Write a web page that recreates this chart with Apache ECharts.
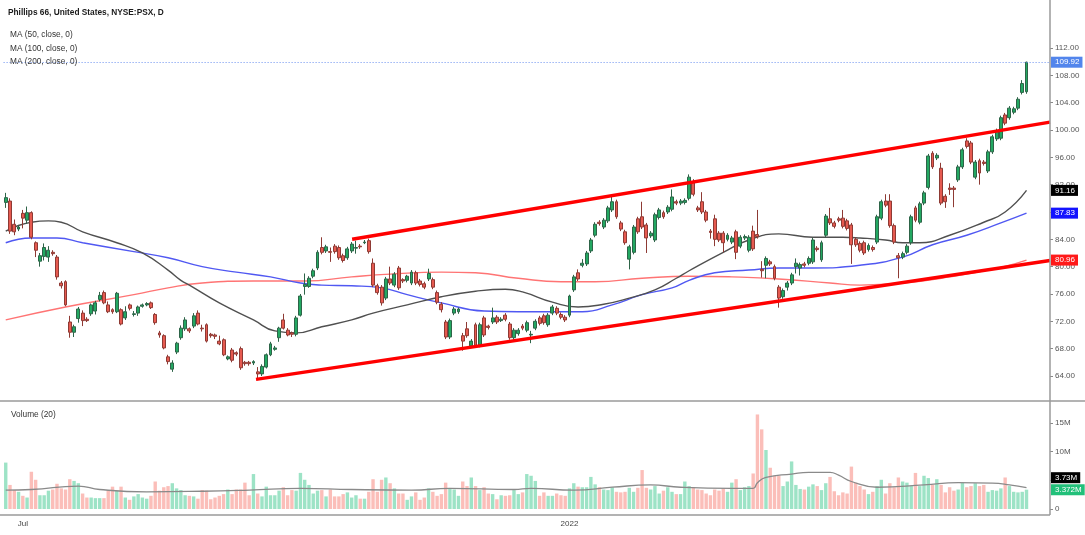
<!DOCTYPE html>
<html>
<head>
<meta charset="utf-8">
<title>PSX</title>
<script src="https://cdn.jsdelivr.net/npm/echarts@6/dist/echarts.min.js"></script>
<style>
  html, body { margin: 0; padding: 0; background: #fff; }
  #chart { width: 1085px; height: 535px; }
</style>
</head>
<body>
<div id="chart"></div>
<script>
// daily candles, Phillips 66
const firstDay = "2021-06-25";
const futureSlots = 5;
const holidays = ["2021-07-05", "2021-09-06", "2021-11-25", "2021-12-24",
  "2022-01-17", "2022-02-21", "2022-04-15", "2022-05-30", "2022-06-20"];

const open = [
  89.4, 89.6, 86.2, 85.5, 87.8, 86.8, 87.9, 83.5, 80.8, 81.5,
  81.4, 82.1, 81.4, 77.6, 77.8, 71.9, 70.4, 72.4, 73.2, 72.3,
  73.1, 73.5, 75.2, 76.2, 74.4, 73.7, 73.4, 73.7, 72.5, 74.4,
  73.0, 73.2, 74.2, 74.4, 74.7, 73.0, 70.3, 69.9, 66.8, 65.0,
  67.5, 69.6, 70.9, 70.9, 71.3, 73.2, 71.0, 71.5, 70.1, 70.0,
  69.1, 69.3, 66.5, 67.8, 67.4, 68.0, 66.0, 66.0, 65.9, 64.6,
  64.3, 65.3, 67.1, 67.9, 69.6, 72.2, 70.7, 70.3, 70.1, 72.9,
  77.1, 77.1, 78.6, 79.8, 82.8, 82.3, 82.2, 83.0, 82.8, 81.6,
  81.3, 82.3, 82.7, 83.0, 83.5, 83.8, 80.5, 77.2, 77.0, 75.4,
  78.2, 77.3, 79.8, 78.1, 78.0, 77.6, 79.1, 77.9, 77.5, 78.2,
  78.1, 76.2, 74.5, 71.9, 69.7, 73.2, 73.4, 69.9, 70.9, 68.4,
  71.5, 68.5, 72.5, 71.3, 71.9, 72.6, 72.1, 72.9, 71.6, 69.6,
  70.2, 71.3, 70.7, 70.0, 71.0, 72.5, 72.8, 71.5, 73.2, 73.9,
  73.0, 72.6, 72.9, 76.6, 79.1, 80.2, 80.4, 82.3, 84.6, 86.5,
  85.8, 86.7, 88.3, 89.5, 86.4, 85.1, 81.1, 82.1, 87.0, 87.3,
  86.1, 84.5, 83.9, 87.2, 87.9, 88.0, 88.4, 89.5, 89.3, 89.4,
  90.0, 92.3, 88.6, 89.5, 88.0, 85.2, 87.0, 84.9, 84.9, 84.0,
  83.6, 85.1, 83.0, 84.2, 82.4, 85.2, 84.7, 79.6, 80.2, 80.7,
  80.0, 77.0, 75.6, 77.0, 77.6, 80.0, 79.8, 80.4, 80.5, 80.7,
  82.7, 81.0, 84.6, 87.0, 86.4, 87.0, 87.1, 86.7, 86.1, 84.0,
  83.4, 83.5, 82.5, 82.8, 83.6, 87.1, 89.6, 89.6, 86.0, 81.6,
  81.4, 82.1, 83.5, 88.6, 86.5, 89.3, 91.6, 96.6, 95.9, 94.4,
  90.3, 91.5, 91.5, 92.7, 94.6, 98.4, 98.1, 93.1, 95.5, 95.3,
  94.0, 96.8, 98.7, 98.8, 102.2, 101.8, 102.6, 103.2, 105.5, 105.6
];
const close = [
  90.1, 85.2, 85.1, 85.8, 87.1, 87.9, 84.3, 82.4, 81.6, 82.8,
  82.4, 81.9, 78.5, 77.2, 74.4, 70.4, 71.2, 73.8, 72.1, 72.1,
  74.4, 74.7, 75.8, 74.7, 73.4, 73.4, 76.1, 71.6, 73.4, 73.9,
  73.1, 74.1, 74.4, 74.6, 74.0, 71.8, 70.0, 68.1, 66.1, 65.9,
  68.8, 71.0, 72.2, 70.6, 72.8, 71.6, 70.9, 69.1, 69.9, 69.8,
  68.7, 67.1, 66.8, 66.3, 67.2, 65.2, 65.8, 65.8, 66.1, 64.3,
  65.4, 67.1, 68.7, 68.1, 71.0, 71.0, 70.0, 70.1, 72.5, 75.7,
  77.4, 78.3, 79.4, 82.1, 82.1, 82.9, 82.1, 82.2, 81.3, 80.9,
  82.6, 83.3, 82.8, 82.9, 83.6, 82.2, 77.3, 76.2, 74.7, 78.2,
  77.6, 78.9, 76.9, 77.9, 78.6, 79.2, 77.6, 77.4, 77.0, 79.0,
  77.0, 74.8, 73.7, 69.7, 72.1, 73.8, 73.8, 69.1, 69.9, 69.1,
  68.5, 71.5, 70.0, 71.1, 72.5, 71.9, 72.3, 72.3, 69.6, 70.7,
  70.7, 71.0, 71.8, 70.1, 72.0, 71.7, 71.8, 72.9, 74.1, 73.2,
  72.6, 72.2, 75.7, 78.5, 78.2, 80.5, 82.0, 83.9, 86.2, 86.3,
  86.8, 88.6, 89.5, 87.3, 85.5, 83.5, 82.9, 85.8, 85.1, 85.8,
  84.2, 84.9, 87.6, 88.3, 87.3, 88.7, 90.2, 89.3, 89.6, 89.7,
  93.1, 90.6, 88.3, 88.0, 86.8, 85.0, 84.0, 83.9, 83.5, 84.6,
  84.2, 82.1, 84.3, 84.4, 84.3, 82.6, 84.4, 79.4, 81.2, 80.4,
  78.3, 75.4, 76.5, 77.6, 78.8, 80.5, 80.3, 80.2, 81.2, 83.9,
  82.5, 83.5, 87.4, 86.4, 85.9, 86.8, 85.9, 85.6, 83.2, 83.2,
  82.4, 82.0, 83.1, 82.5, 87.3, 89.5, 89.0, 86.0, 83.6, 81.3,
  81.9, 83.0, 87.3, 86.8, 89.2, 90.8, 96.2, 94.6, 96.3, 89.3,
  89.5, 91.3, 91.3, 94.6, 97.1, 97.6, 95.3, 95.3, 93.7, 95.1,
  96.8, 99.0, 99.8, 101.8, 101.0, 103.2, 103.1, 104.5, 106.8, 109.92
];
const low = [
  88.6, 84.8, 84.6, 85.2, 85.6, 86.3, 84.0, 81.4, 80.0, 80.9,
  80.7, 81.6, 78.1, 76.8, 74.2, 69.6, 69.7, 71.8, 71.3, 71.9,
  72.8, 73.0, 74.9, 74.5, 73.2, 73.1, 73.2, 71.4, 72.2, 73.6,
  72.7, 72.8, 74.0, 74.2, 73.8, 71.5, 69.6, 67.9, 65.7, 64.6,
  67.2, 69.3, 70.6, 70.3, 71.0, 71.4, 70.5, 68.9, 69.6, 69.4,
  68.5, 66.9, 66.3, 66.0, 66.9, 64.9, 65.5, 65.5, 65.6, 63.6,
  64.0, 65.1, 66.9, 67.7, 69.0, 70.8, 69.8, 69.7, 69.8, 72.7,
  75.9, 76.9, 78.3, 79.5, 81.8, 82.0, 80.7, 81.9, 81.0, 80.6,
  81.0, 82.0, 81.9, 82.6, 83.3, 81.9, 77.0, 75.9, 74.3, 75.1,
  77.3, 77.0, 76.6, 77.6, 77.7, 77.3, 77.3, 77.1, 76.7, 77.9,
  76.7, 74.5, 73.3, 69.4, 69.4, 72.9, 73.1, 67.7, 69.6, 68.1,
  68.2, 68.2, 69.7, 70.8, 71.6, 71.6, 71.9, 72.0, 69.3, 69.3,
  69.9, 70.7, 70.4, 68.8, 70.7, 71.4, 71.5, 71.2, 72.9, 72.9,
  72.3, 71.9, 72.6, 76.3, 77.9, 79.9, 80.1, 82.0, 84.3, 86.0,
  85.5, 86.4, 88.0, 87.0, 85.2, 83.2, 79.6, 81.8, 84.8, 85.5,
  82.0, 84.2, 83.6, 86.9, 87.0, 87.7, 88.1, 89.0, 89.0, 89.1,
  89.7, 90.3, 88.0, 87.7, 86.5, 84.1, 83.0, 83.6, 82.1, 83.7,
  83.3, 81.1, 82.7, 83.9, 82.1, 82.3, 84.1, 78.4, 78.3, 80.1,
  78.0, 74.0, 75.3, 76.5, 77.3, 79.0, 78.7, 79.9, 80.2, 80.4,
  82.2, 80.7, 84.3, 86.1, 85.6, 86.5, 85.6, 85.3, 80.4, 82.9,
  82.1, 81.7, 82.2, 82.2, 83.3, 86.8, 88.7, 85.7, 83.3, 78.3,
  81.1, 81.8, 83.2, 86.5, 86.2, 89.0, 91.3, 94.3, 95.6, 89.0,
  88.6, 90.5, 88.7, 92.4, 94.3, 97.3, 95.0, 92.8, 92.0, 94.8,
  93.7, 96.5, 98.4, 98.5, 100.7, 101.5, 102.3, 102.9, 105.2, 105.3
];
const high = [
  90.8, 90.0, 86.9, 86.1, 88.3, 88.8, 88.1, 83.7, 82.0, 83.4,
  83.0, 82.4, 81.7, 77.9, 78.0, 72.8, 71.5, 74.1, 73.6, 72.6,
  74.6, 75.0, 76.3, 76.5, 74.9, 73.9, 76.3, 73.9, 74.2, 74.6,
  73.5, 74.3, 74.6, 74.8, 74.9, 73.2, 70.6, 70.1, 67.1, 66.3,
  69.0, 71.4, 72.6, 71.1, 73.2, 73.6, 71.5, 71.7, 70.3, 70.2,
  69.9, 69.5, 67.0, 68.1, 67.6, 68.3, 66.2, 66.2, 66.3, 65.3,
  65.7, 67.3, 69.0, 68.4, 71.2, 73.1, 71.0, 70.5, 72.8, 76.0,
  79.0, 78.6, 79.7, 82.4, 84.3, 83.2, 82.8, 83.3, 83.1, 81.9,
  82.9, 83.6, 83.8, 83.3, 83.9, 84.1, 81.2, 77.5, 77.3, 78.5,
  80.0, 79.2, 80.1, 78.3, 78.8, 79.5, 79.4, 78.2, 77.8, 79.7,
  78.4, 76.5, 74.8, 72.2, 72.4, 74.1, 74.0, 70.3, 71.9, 69.4,
  71.8, 71.8, 72.8, 71.5, 74.0, 72.9, 72.6, 73.2, 71.9, 71.0,
  71.0, 71.6, 72.1, 70.6, 72.3, 72.8, 73.1, 73.2, 74.4, 74.2,
  73.3, 72.9, 75.9, 78.8, 79.6, 81.1, 82.3, 84.2, 86.5, 86.8,
  87.1, 88.9, 90.3, 89.8, 86.7, 85.4, 83.2, 86.1, 87.3, 89.5,
  86.4, 85.2, 87.9, 88.6, 88.2, 89.0, 91.3, 89.8, 89.9, 90.0,
  93.5, 92.8, 88.9, 90.9, 88.3, 85.5, 87.6, 85.2, 85.2, 84.9,
  84.5, 85.4, 84.6, 84.7, 84.6, 86.0, 88.3, 80.8, 81.5, 81.0,
  80.3, 77.3, 76.8, 77.9, 79.1, 81.2, 80.6, 80.7, 81.5, 84.2,
  83.0, 83.8, 87.7, 88.6, 86.7, 87.3, 88.3, 87.0, 86.4, 84.3,
  83.7, 83.8, 83.4, 83.1, 87.6, 89.8, 90.6, 90.6, 86.3, 82.0,
  82.2, 83.3, 87.6, 88.9, 89.5, 91.1, 96.5, 96.9, 96.6, 95.2,
  90.6, 92.2, 91.8, 94.9, 97.4, 98.8, 98.4, 95.6, 95.8, 95.6,
  97.1, 99.3, 100.2, 102.1, 102.5, 103.5, 103.4, 104.8, 107.3, 110.0
];
// volume in millions
const volume = [
  8.1, 4.2, 3.3, 3.0, 2.3, 2.0, 6.5, 5.1, 2.4, 2.4,
  3.2, 3.4, 4.4, 3.6, 3.4, 5.2, 4.9, 4.5, 2.7, 2.0,
  2.0, 1.9, 1.9, 1.9, 3.2, 3.9, 3.2, 3.9, 2.0, 1.6,
  2.2, 2.6, 2.0, 1.8, 2.3, 4.8, 3.2, 3.8, 4.0, 4.5,
  3.6, 3.3, 2.4, 2.3, 2.2, 1.8, 3.3, 3.2, 1.7, 2.0,
  2.3, 2.6, 3.4, 2.6, 3.4, 3.4, 4.6, 2.4, 6.1, 2.7,
  2.2, 3.9, 2.4, 2.4, 3.2, 3.8, 2.4, 3.3, 3.2, 6.3,
  5.1, 4.2, 2.7, 3.2, 3.3, 2.2, 3.4, 2.2, 2.2, 2.6,
  2.9, 2.0, 2.4, 1.8, 1.8, 3.0, 5.2, 3.0, 5.1, 5.5,
  4.5, 3.6, 2.7, 2.7, 1.6, 2.2, 2.9, 1.6, 2.0, 3.6,
  3.0, 2.3, 2.6, 4.6, 3.6, 3.4, 2.3, 4.8, 4.0, 5.5,
  4.0, 3.3, 3.8, 2.7, 2.6, 1.7, 2.4, 2.3, 2.4, 3.3,
  2.6, 2.9, 6.1, 5.8, 4.9, 2.3, 2.9, 2.3, 2.3, 2.7,
  2.4, 2.3, 3.6, 4.5, 3.9, 3.8, 3.8, 5.6, 4.3, 3.8,
  3.4, 3.3, 3.8, 3.0, 2.9, 3.0, 3.7, 3.0, 3.7, 6.8,
  3.7, 3.4, 4.0, 2.7, 3.2, 3.8, 3.0, 2.6, 2.6, 4.8,
  4.0, 3.8, 3.4, 3.3, 2.7, 2.4, 3.4, 3.2, 3.6, 3.0,
  4.6, 5.2, 3.3, 3.8, 4.0, 6.2, 16.5, 13.9, 10.3, 7.2,
  5.8, 5.8, 4.0, 4.8, 8.3, 4.2, 3.5, 3.4, 3.9, 4.3,
  4.0, 3.3, 4.5, 5.6, 3.1, 2.4, 2.9, 2.7, 7.4, 4.6,
  4.0, 3.4, 2.6, 3.0, 4.0, 5.1, 2.7, 4.5, 3.8, 5.5,
  4.8, 4.6, 4.0, 6.3, 4.0, 5.8, 5.4, 4.2, 5.2, 4.2,
  2.9, 3.8, 3.2, 3.4, 4.6, 3.8, 4.0, 4.5, 4.0, 4.2,
  3.0, 3.3, 3.2, 3.6, 5.5, 4.0, 3.0, 2.9, 3.0, 3.372
];

// moving averages as [bar index, value]
const ma50 = [[0, 85.2], [6, 86.5], [10, 86.7], [13, 86.5], [18, 85.1], [26, 83.5], [32, 82.0],
  [38, 79.5], [41, 78.0], [43, 77.3], [50, 74.7], [58, 72.2], [63, 70.6], [68, 70.3], [74, 71.2],
  [81, 72.2], [86, 73.2], [94, 74.4], [102, 75.6], [110, 76.4], [117, 76.7], [121, 76.3],
  [128, 74.8], [134, 74.1], [140, 74.5], [146, 75.4], [152, 76.6], [157, 78.3], [160, 79.4],
  [168, 82.1], [174, 83.9], [181, 84.8], [189, 84.3], [196, 84.3], [200, 84.2], [206, 83.9],
  [210, 83.5], [214, 83.5], [221, 84.6], [229, 86.5], [234, 88.0], [239, 91.16]];
const ma100 = [[0, 83.5], [6, 84.2], [12, 84.2], [18, 83.5], [30, 82.2], [38, 81.3], [46, 80.0],
  [54, 79.2], [62, 78.5], [69, 77.6], [74, 77.3], [81, 77.2], [88, 76.9], [94, 75.9], [102, 74.7],
  [112, 73.5], [120, 73.4], [130, 73.4], [135, 73.4], [142, 74.4], [149, 75.9], [156, 76.9],
  [160, 78.0], [166, 79.1], [174, 79.5], [181, 79.8], [189, 79.8], [200, 80.2], [210, 81.4],
  [217, 83.2], [225, 84.6], [233, 86.4], [239, 87.83]];
const ma200 = [[0, 72.2], [14, 74.1], [30, 75.9], [38, 76.9], [46, 77.6], [58, 77.9], [70, 77.9],
  [81, 78.5], [90, 78.9], [102, 79.2], [110, 79.1], [120, 78.3], [130, 77.8], [138, 77.8],
  [149, 78.3], [160, 78.6], [170, 78.5], [181, 78.2], [193, 77.6], [200, 77.3], [210, 77.6],
  [221, 78.5], [233, 79.9], [239, 80.96]];
const volMa = [[0, 3.3], [6, 3.4], [17, 4.0], [22, 3.4], [33, 3.0], [46, 3.1], [57, 3.3], [69, 3.6],
  [81, 3.4], [95, 3.3], [104, 3.6], [119, 3.4], [123, 3.6], [133, 3.3], [142, 3.8], [151, 4.2],
  [158, 3.8], [170, 3.6], [175, 3.6], [176, 4.6], [178, 5.5], [184, 6.1], [188, 6.4], [193, 6.4],
  [195, 5.9], [198, 4.8], [204, 3.8], [215, 4.2], [223, 4.6], [231, 4.5], [235, 4.2], [239, 3.73]];

// channel drawn on the chart
const upperTrend = [[81.1, 84.0], [244.5, 101.15]];
const lowerTrend = [[58.6, 63.5], [244.5, 80.9]];

const priceTicks = [64, 68, 72, 76, 80, 84, 88, 92, 96, 100, 104, 108, 112];
const volumeTicks = [0, 10, 15];
const volumeTickMarks = [0, 5, 10, 15];
const monthLabels = { "2021-07": "Jul", "2022-01": "2022" };

function buildDates(start, count) {
  const out = [];
  const d = new Date(start + "T00:00:00Z");
  while (out.length < count) {
    const iso = d.toISOString().slice(0, 10);
    const wd = d.getUTCDay();
    if (wd !== 0 && wd !== 6 && holidays.indexOf(iso) < 0) out.push(iso);
    d.setUTCDate(d.getUTCDate() + 1);
  }
  return out;
}

const dates = buildDates(firstDay, open.length + futureSlots);
const monthStart = {};
dates.forEach((d, i) => {
  if (i > 0 && d.slice(0, 7) !== dates[i - 1].slice(0, 7)) monthStart[i] = true;
});

const candles = open.map((o, i) => [o, close[i], low[i], high[i]]);
const volBars = volume.map((v, i) => ({
  value: v,
  itemStyle: { color: close[i] >= open[i] ? "rgba(38,194,129,0.45)" : "rgba(246,110,100,0.45)" },
}));

const FONT = '"Liberation Sans", Arial, sans-serif';
const lastBar = open.length - 1;

const option = {
  animation: false,
  backgroundColor: "#fff",
  grid: [
    { left: 3.6, right: 35, top: 20.67, bottom: 131.7 },
    { left: 3.6, right: 35, top: 394.4, bottom: 26 },
  ],
  xAxis: [
    { type: "category", gridIndex: 0, data: dates, show: false },
    {
      type: "category",
      gridIndex: 1,
      data: dates,
      offset: 6,
      axisLine: { show: false },
      axisTick: {
        alignWithLabel: true,
        interval: (i) => !!monthStart[i],
        length: 4,
        lineStyle: { color: "#8c8c8c" },
      },
      axisLabel: {
        interval: (i) => !!monthStart[i],
        formatter: (v) => monthLabels[v.slice(0, 7)] || "",
        fontSize: 8,
        fontFamily: FONT,
        color: "#444",
        margin: 5,
      },
      splitLine: { show: false },
    },
    { type: "value", gridIndex: 0, min: -0.5, max: 244.5, show: false },
    { type: "value", gridIndex: 1, min: -0.5, max: 244.5, show: false },
  ],
  yAxis: [
    {
      type: "value",
      gridIndex: 0,
      position: "right",
      min: 60,
      max: 116,
      interval: 4,
      axisLine: { show: false, onZero: false },
      axisTick: { show: true, customValues: priceTicks, length: 3, lineStyle: { color: "#888" } },
      axisLabel: {
        customValues: priceTicks,
        formatter: (v) => v.toFixed(2),
        fontSize: 8,
        fontFamily: FONT,
        color: "#555",
        margin: 5,
      },
      splitLine: { show: false },
    },
    {
      type: "value",
      gridIndex: 1,
      position: "right",
      min: 0,
      max: 20,
      interval: 5,
      axisLine: { show: false, onZero: false },
      axisTick: { show: true, customValues: volumeTickMarks, length: 3, lineStyle: { color: "#888" } },
      axisLabel: {
        customValues: volumeTicks,
        formatter: (v) => (v === 0 ? "0" : v + "M"),
        fontSize: 8,
        fontFamily: FONT,
        color: "#555",
        margin: 5,
      },
      splitLine: { show: false },
    },
  ],
  series: [
    {
      name: "MA 200",
      type: "line",
      xAxisIndex: 2,
      yAxisIndex: 0,
      data: ma200,
      smooth: true,
      symbol: "none",
      lineStyle: { color: "#ff7474", width: 1.4 },
      z: 2,
    },
    {
      name: "MA 100",
      type: "line",
      xAxisIndex: 2,
      yAxisIndex: 0,
      data: ma100,
      smooth: true,
      symbol: "none",
      lineStyle: { color: "#5058f2", width: 1.4 },
      z: 2,
    },
    {
      name: "MA 50",
      type: "line",
      xAxisIndex: 2,
      yAxisIndex: 0,
      data: ma50,
      smooth: true,
      symbol: "none",
      lineStyle: { color: "#505050", width: 1.4 },
      z: 2,
    },
    {
      name: "PSX",
      type: "candlestick",
      xAxisIndex: 0,
      yAxisIndex: 0,
      data: candles,
      barWidth: 3.4,
      itemStyle: {
        color: "#23a862",
        color0: "#e65a50",
        borderColor: "#2e6448",
        borderColor0: "#8e3a34",
        borderWidth: 1,
      },
      markLine: {
        silent: true,
        symbol: "none",
        label: { show: false },
        lineStyle: { color: "#6a90f0", type: [1, 2], width: 1 },
        data: [{ yAxis: close[lastBar] }],
      },
      z: 3,
    },
    {
      name: "upper",
      type: "line",
      xAxisIndex: 2,
      yAxisIndex: 0,
      data: upperTrend,
      symbol: "none",
      lineStyle: { color: "#ff0000", width: 3.5 },
      z: 4,
    },
    {
      name: "lower",
      type: "line",
      xAxisIndex: 2,
      yAxisIndex: 0,
      data: lowerTrend,
      symbol: "none",
      lineStyle: { color: "#ff0000", width: 3.5 },
      z: 4,
    },
    {
      name: "Volume",
      type: "bar",
      xAxisIndex: 1,
      yAxisIndex: 1,
      data: volBars,
      barWidth: 3.4,
    },
    {
      name: "Volume MA",
      type: "line",
      xAxisIndex: 3,
      yAxisIndex: 1,
      data: volMa,
      smooth: true,
      symbol: "none",
      lineStyle: { color: "#8a8a8a", width: 1.3 },
      z: 3,
    },
  ],
};

const chart = echarts.init(document.getElementById("chart"));
chart.setOption(option);

const py = (v) => chart.convertToPixel({ yAxisIndex: 0 }, v);
const vy = (v) => chart.convertToPixel({ yAxisIndex: 1 }, v);

function tag(text, y, bg) {
  return {
    type: "text",
    z: 100,
    style: {
      x: 1051,
      y: y,
      text: text,
      fill: "#fff",
      backgroundColor: bg,
      padding: [2, 3, 1, 4],
      font: "8px " + FONT,
      verticalAlign: "middle",
    },
  };
}
function label(text, x, y, bold) {
  return {
    type: "text",
    z: 100,
    style: {
      x: x,
      y: y,
      text: text,
      fill: bold ? "#1a1a1a" : "#333",
      font: (bold ? "bold " : "") + "8.3px " + FONT,
      verticalAlign: "middle",
    },
  };
}
function rule(x1, y1, x2, y2) {
  return {
    type: "line",
    z: 90,
    shape: { x1: x1, y1: y1, x2: x2, y2: y2 },
    style: { stroke: "#9a9a9a", lineWidth: 1.5 },
  };
}

const lastVol = volume[lastBar];
const lastVolMa = volMa[volMa.length - 1][1];
const volTagY = vy(lastVol);

chart.setOption({
  graphic: [
    rule(0, 401, 1085, 401),
    rule(0, 515, 1050, 515),
    rule(1050, 0, 1050, 515),
    label("Phillips 66, United States, NYSE:PSX, D", 8, 13, true),
    label("MA (50, close, 0)", 10, 35, false),
    label("MA (100, close, 0)", 10, 49, false),
    label("MA (200, close, 0)", 10, 62, false),
    label("Volume (20)", 11, 415, false),
    tag(close[lastBar].toFixed(2), py(close[lastBar]), "#5285ec"),
    tag(ma50[ma50.length - 1][1].toFixed(2), py(ma50[ma50.length - 1][1]), "#000"),
    tag(ma100[ma100.length - 1][1].toFixed(2), py(ma100[ma100.length - 1][1]), "#1414ff"),
    tag(ma200[ma200.length - 1][1].toFixed(2), py(ma200[ma200.length - 1][1]), "#ff1a1a"),
    tag(lastVolMa.toFixed(2) + "M", Math.min(vy(lastVolMa), volTagY - 12), "#000"),
    tag(lastVol.toFixed(3) + "M", volTagY, "#22c07a"),
  ],
});

window.addEventListener("resize", () => chart.resize());
</script>
</body>
</html>
